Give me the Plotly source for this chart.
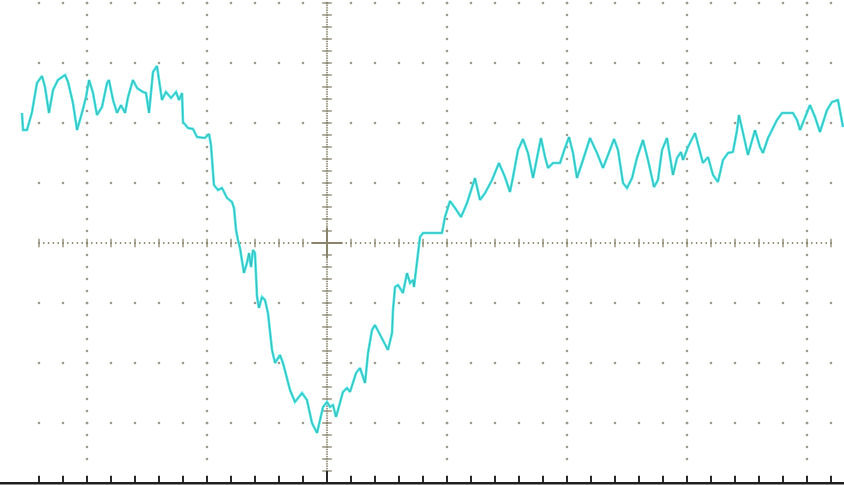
import numpy as np
import plotly.graph_objects as go

# ---- data (time in ms, signal in mV; 10 units per division) ----
time_ms = [-25.42, -25.33, -25.0, -24.58, -24.17, -23.75, -23.5, -23.17, -22.83, -22.42,
           -21.83, -21.58, -21.17, -20.83, -20.42, -20.08, -19.83, -19.5, -19.17, -18.75,
           -18.33, -18.17, -17.83, -17.5, -17.17, -16.83, -16.58, -16.17, -15.83, -15.33,
           -15.08, -14.83, -14.5, -14.17, -13.75, -13.42, -13.0, -12.58, -12.33, -12.08,
           -12.0, -11.58, -11.17, -10.83, -10.17, -9.83, -9.67, -9.58, -9.42, -9.08,
           -8.75, -8.33, -7.92, -7.75, -7.58, -7.42, -7.25, -6.92, -6.67, -6.5,
           -6.33, -6.17, -6.0, -5.83, -5.67, -5.42, -5.17, -4.92, -4.58, -4.33,
           -3.92, -3.67, -3.08, -2.67, -2.08, -1.67, -1.25, -0.83, -0.58, -0.33,
           0.0, 0.25, 0.5, 0.75, 0.92, 1.33, 1.67, 1.92, 2.42, 2.75,
           3.0, 3.17, 3.42, 3.75, 4.0, 4.58, 5.08, 5.42, 5.5, 5.67,
           5.92, 6.33, 6.67, 6.92, 7.17, 7.25, 7.5, 7.75, 8.0, 9.58,
           9.83, 10.25, 10.67, 11.17, 11.67, 12.33, 12.75, 13.17, 13.75, 14.33,
           14.83, 15.25, 15.5, 15.92, 16.33, 16.75, 17.17, 17.5, 17.83, 18.17,
           18.42, 18.83, 19.42, 19.83, 20.17, 20.5, 20.83, 21.25, 21.92, 22.5,
           23.0, 23.58, 23.92, 24.25, 24.67, 25.0, 25.42, 25.83, 26.33, 26.75,
           27.25, 27.58, 27.92, 28.33, 28.58, 28.83, 29.17, 29.5, 29.67, 30.08,
           30.67, 31.08, 31.33, 31.75, 32.17, 32.58, 33.0, 33.42, 33.83, 34.17,
           34.33, 34.67, 35.08, 35.67, 36.08, 36.33, 36.75, 37.5, 37.92, 38.83,
           39.17, 39.42, 39.83, 40.25, 40.67, 41.08, 41.67, 42.08, 42.58, 43.0]
signal_mv = [21.67, 18.83, 18.83, 21.83, 26.67, 27.83, 26.0, 21.67, 25.5, 27.17,
             28.0, 26.83, 23.33, 18.83, 21.67, 24.33, 27.17, 25.0, 21.33, 22.67,
             26.67, 27.17, 23.83, 21.67, 23.0, 21.67, 24.33, 27.17, 25.83, 25.17,
             25.0, 21.67, 28.5, 29.5, 23.83, 25.17, 24.17, 25.17, 23.83, 25.0,
             20.17, 19.17, 19.0, 17.67, 17.5, 18.17, 16.33, 13.33, 9.67, 8.83,
             9.17, 7.5, 6.83, 5.83, 2.17, 0.5, -0.83, -5.0, -3.33, -1.67,
             -4.0, -1.17, -1.67, -9.0, -10.83, -9.0, -9.5, -11.67, -17.83, -20.0,
             -18.67, -20.0, -24.5, -26.5, -25.0, -26.17, -30.0, -31.67, -29.5, -27.33,
             -26.5, -27.33, -27.0, -29.0, -27.83, -24.83, -24.17, -24.83, -21.67, -20.83,
             -22.33, -23.33, -18.33, -14.5, -13.67, -15.83, -17.83, -15.0, -11.17, -7.33,
             -7.0, -8.33, -5.0, -6.67, -6.17, -7.33, -2.83, 1.0, 1.67, 1.67,
             4.33, 7.0, 5.83, 4.33, 6.67, 10.83, 7.17, 8.33, 10.5, 13.33,
             11.0, 8.5, 11.0, 15.5, 17.33, 15.0, 10.83, 14.33, 17.5, 14.33,
             12.5, 13.33, 13.33, 15.83, 17.67, 15.0, 10.83, 13.33, 17.5, 15.0,
             12.5, 15.5, 17.33, 15.5, 10.0, 9.17, 10.83, 14.17, 17.17, 13.83,
             9.33, 10.5, 15.5, 17.5, 14.33, 11.33, 14.17, 15.17, 13.83, 16.0,
             18.33, 15.17, 13.33, 14.33, 11.33, 10.17, 13.83, 15.0, 15.17, 18.83,
             21.33, 18.33, 14.67, 18.83, 16.0, 15.0, 17.5, 20.5, 21.67, 21.67,
             20.5, 18.83, 21.0, 23.0, 21.0, 18.5, 22.17, 23.5, 23.83, 19.33]

# graticule settings (divisions of 10 units)
major_x = [-20, -10, 10, 20, 30, 40]
major_y = [-30, -20, -10, 10, 20, 30, 40]
X_RANGE = [-27.25, 43.083]
Y_RANGE = [-40.333, 40.5]

DOT = "#9c9a8a"
AXC = "#8a846c"

fig = go.Figure()

# grid dots along horizontal rows and vertical columns
gx, gy = [], []
for v in major_y:
    for t in np.arange(-24, 42.01, 2):
        gx.append(t); gy.append(v)
for t in major_x:
    for v in np.arange(-36, 40.01, 2):
        gx.append(t); gy.append(v)
fig.add_trace(go.Scatter(x=gx, y=gy, mode="markers", hoverinfo="skip",
                         marker=dict(size=2.6, color=DOT, line=dict(width=0))))

# center axes: dense dots
cx, cy = [], []
for t in np.arange(-24, 42.01, 0.4):
    cx.append(t); cy.append(0)
for v in np.arange(-38, 40.01, 0.4):
    cx.append(0); cy.append(v)
fig.add_trace(go.Scatter(x=cx, y=cy, mode="markers", hoverinfo="skip",
                         marker=dict(size=1.8, color=AXC, line=dict(width=0))))

# center axes: ticks
tx, ty = [], []
for t in np.arange(-24, 42.01, 2):
    tx += [t, t, None]; ty += [-0.7, 0.7, None]
for v in np.arange(-38, 40.01, 2):
    tx += [-0.4, 0.4, None]; ty += [v, v, None]
fig.add_trace(go.Scatter(x=tx, y=ty, mode="lines", hoverinfo="skip",
                         line=dict(color=AXC, width=1.3)))

# center cross
fig.add_trace(go.Scatter(x=[-1.3, 1.3, None, 0, 0], y=[0, 0, None, -2.6, 2.6],
                         mode="lines", hoverinfo="skip",
                         line=dict(color=AXC, width=2)))

# bottom edge with ticks
bx, by = [], []
for t in np.arange(-24, 42.01, 2):
    h = -38.0 if t == 0 else -38.8
    bx += [t, t, None]; by += [-40, h, None]
fig.add_trace(go.Scatter(x=bx, y=by, mode="lines", hoverinfo="skip",
                         line=dict(color="#2a2a2a", width=2)))
fig.add_trace(go.Scatter(x=X_RANGE, y=[-40.05, -40.05], mode="lines", hoverinfo="skip",
                         line=dict(color="#1e1e1e", width=2.6)))

# signal trace
fig.add_trace(go.Scatter(x=time_ms, y=signal_mv, mode="lines", hoverinfo="skip",
                         line=dict(color="#4ee8e8", width=2.6)))
fig.add_trace(go.Scatter(x=time_ms, y=signal_mv, mode="lines", hoverinfo="skip",
                         line=dict(color="#36b8b8", width=1)))

fig.update_layout(
    width=844, height=485,
    margin=dict(l=0, r=0, t=0, b=0),
    paper_bgcolor="white", plot_bgcolor="white",
    showlegend=False,
    xaxis=dict(range=X_RANGE, visible=False, showgrid=False, zeroline=False, fixedrange=True),
    yaxis=dict(range=Y_RANGE, visible=False, showgrid=False, zeroline=False, fixedrange=True),
)

fig.write_html("out.html", config={"displayModeBar": False},
               post_script="document.body.style.margin='0';document.body.style.overflow='hidden';")
